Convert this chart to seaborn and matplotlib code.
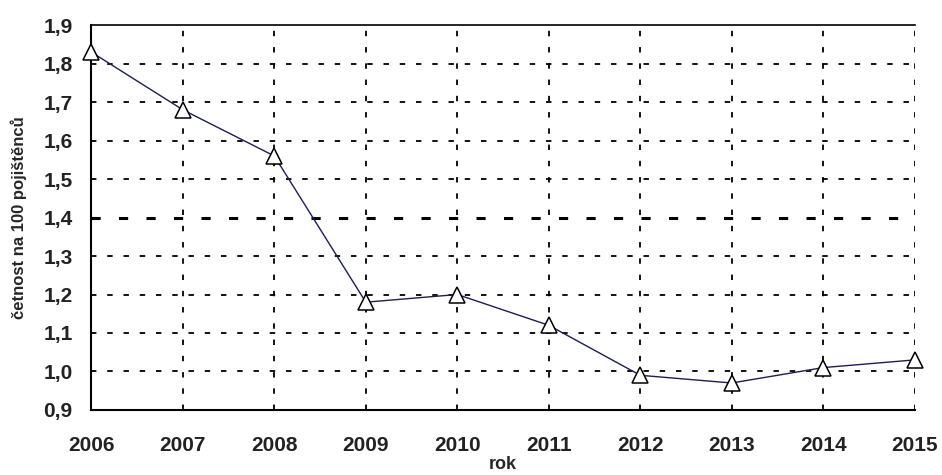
import matplotlib.pyplot as plt
import pandas as pd
import seaborn as sns

# Data
years = [2006, 2007, 2008, 2009, 2010, 2011, 2012, 2013, 2014, 2015]
cetnost = [1.83, 1.68, 1.56, 1.18, 1.20, 1.12, 0.99, 0.97, 1.01, 1.03]
y_ticks = [0.9, 1.0, 1.1, 1.2, 1.3, 1.4, 1.5, 1.6, 1.7, 1.8, 1.9]

df = pd.DataFrame({"rok": years, "cetnost": cetnost})

sns.set_style("white")
plt.rcParams["font.family"] = ["Liberation Sans", "DejaVu Sans"]

fig = plt.figure(figsize=(9.42, 4.75), dpi=100)
ax = fig.add_axes([0.097, 0.137, 0.874, 0.810])

# Grid
for yv in y_ticks[1:-1]:
    lw = 2.2 if abs(yv - 1.4) < 1e-9 else 1.3
    ax.axhline(yv, color="black", lw=lw, ls=(0, (3, 6)), zorder=1)
for xv in years[1:]:
    ax.axvline(xv, color="black", lw=1.3, ls=(0, (3, 6)), zorder=1)

sns.lineplot(data=df, x="rok", y="cetnost", ax=ax, color="#1c1c5c", lw=1.0,
             marker="^", markersize=12, markerfacecolor="white",
             markeredgecolor="black", markeredgewidth=1.1, zorder=3, clip_on=False)

ax.set_xlim(years[0], years[-1])
ax.set_ylim(y_ticks[0], y_ticks[-1])
ax.set_xticks(years)
ax.set_yticks(y_ticks)
ax.set_yticklabels([f"{v:.1f}".replace(".", ",") for v in y_ticks])
ax.set_xticklabels([str(y) for y in years])

for lab in ax.get_xticklabels() + ax.get_yticklabels():
    lab.set_fontweight("bold")
    lab.set_fontsize(15)
    lab.set_color("#222222")

ax.tick_params(axis="both", direction="inout", length=9, width=1.5, color="black")
ax.tick_params(axis="x", pad=14)
ax.tick_params(axis="y", pad=9)

ax.spines["right"].set_visible(False)
for s in ["left", "bottom", "top"]:
    ax.spines[s].set_color("black")
    ax.spines[s].set_linewidth(1.5)
ax.spines["top"].set_linewidth(1.2)

ax.set_xlabel("rok", fontsize=13, fontweight="bold", labelpad=1)
ax.set_ylabel("četnost na 100 pojištěnců", fontsize=12, fontweight="bold", labelpad=12)

fig.savefig("out.png", dpi=100)
plt.close(fig)
